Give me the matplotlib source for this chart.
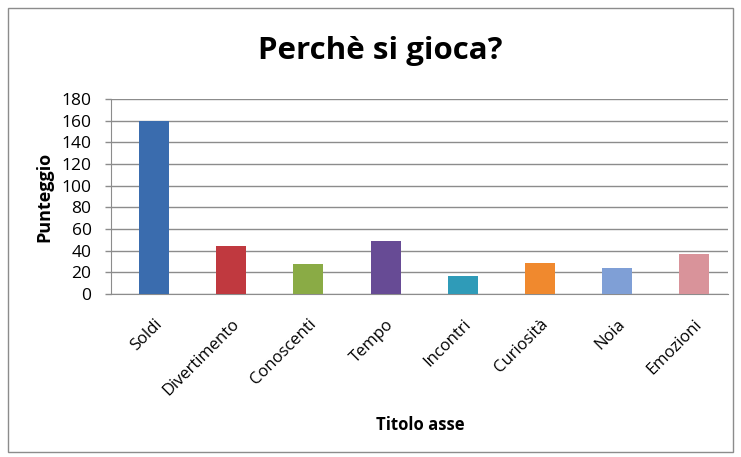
import matplotlib.pyplot as plt
from matplotlib.patches import Rectangle

plt.rcParams['font.family'] = ['Open Sans', 'DejaVu Sans']

categorie = ["Soldi", "Divertimento", "Conoscenti", "Tempo", "Incontri",
             "Curiosità", "Noia", "Emozioni"]
punteggio = [160, 44, 28, 49, 17, 29, 24, 37]
colori = ["#3a6cae", "#c0393f", "#8aab45", "#674b95", "#2f9bb8",
          "#f0892e", "#7f9fd6", "#d9939a"]
yticks = [0, 20, 40, 60, 80, 100, 120, 140, 160, 180]

fig = plt.figure(figsize=(7.41, 4.57), dpi=100)
ax = fig.add_axes([111 / 741, 1 - 294 / 457, 617 / 741, 195 / 457])

x = range(len(categorie))
ax.bar(x, punteggio, width=0.39, color=colori, zorder=3)

ax.set_xlim(-0.56, len(categorie) - 0.56)
ax.set_ylim(0, 180)
ax.set_yticks(yticks)
ax.set_yticklabels([str(v) for v in yticks], fontsize=12.5)
ax.set_xticks(list(x))
ax.set_xticklabels(categorie, rotation=45, ha="right", rotation_mode="anchor",
                   fontsize=12)
ax.tick_params(axis="x", length=0, pad=16)
ax.tick_params(axis="y", length=4, width=1, color="#8c8c8c", pad=10)

ax.grid(axis="y", color="#8c8c8c", linewidth=1, zorder=0)
for s in ["top", "right"]:
    ax.spines[s].set_visible(False)
ax.spines["bottom"].set_color("#8c8c8c")
ax.spines["left"].set_color("#8c8c8c")

ax.set_ylabel("Punteggio", fontsize=13, fontweight="bold", labelpad=6)
fig.text(420 / 741, 1 - 425 / 457, "Titolo asse", fontsize=12,
         fontweight="bold", ha="center", va="center")
fig.text(380 / 741, 1 - 51 / 457, "Perchè si gioca?", fontsize=22.5,
         fontweight="bold", ha="center", va="center")

fig.patches.append(Rectangle((8 / 741, 5 / 457), 725 / 741, 444 / 457,
                             transform=fig.transFigure, fill=False,
                             edgecolor="#8c8c8c", linewidth=1))

fig.savefig("out.png", dpi=100)
